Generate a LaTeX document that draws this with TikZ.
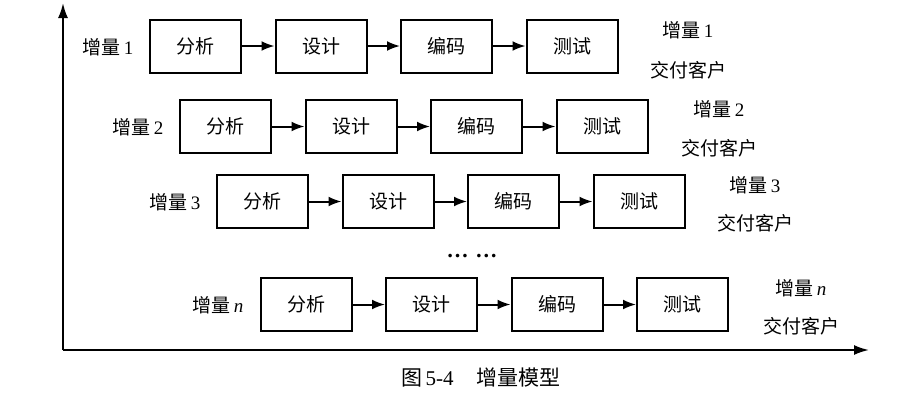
\documentclass[tikz,border=0pt]{standalone}
\usepackage{fontspec}
\setmainfont{Liberation Serif}
\newfontfamily\cjk{Noto Sans CJK SC}
\usetikzlibrary{arrows.meta}
\newcommand\zlab[1]{{\cjk 增量}\,#1}
\begin{document}
\begin{tikzpicture}[x=1pt,y=-1pt,
  stagebox/.style={draw,line width=2pt,minimum width=91pt,minimum height=53pt,inner sep=0pt,font=\fontsize{19}{19}\cjk},
  lbl/.style={inner sep=0pt,font=\fontsize{19}{19}\selectfont},
  flow/.style={line width=2pt,-{Latex[length=13pt,width=10pt]}},
  axisline/.style={line width=2pt,-{Latex[length=15pt,width=10pt]}}]
\useasboundingbox (0,0) rectangle (909,400);
% axes
\coordinate (origin) at (63,350);
\coordinate (ytip) at (63,3);
\coordinate (xtip) at (869,350);
\draw[axisline] (origin) -- (ytip);
\draw[axisline] (origin) -- (xtip);
% rows
\foreach \r/\cx/\cy/\lx/\n/\rx/\ryA/\ryB in
  {1/195.5/46/108/1/688/30/70,
   2/225.5/126.5/138/2/719/109/148,
   3/262.5/201.5/175/3/755/185/223,
   4/306/304.5/218/{\textit{n}}/801/288/326}{
  \node[stagebox] (a\r) at (\cx,\cy) {分析};
  \node[stagebox] (b\r) at (\cx+125.5,\cy) {设计};
  \node[stagebox] (c\r) at (\cx+251,\cy) {编码};
  \node[stagebox] (d\r) at (\cx+376.5,\cy) {测试};
  \draw[flow] (a\r) -- (b\r);
  \draw[flow] (b\r) -- (c\r);
  \draw[flow] (c\r) -- (d\r);
  \node[lbl] (l\r) at (\lx,\cy+1) {\zlab{\n}};
  \node[lbl] (ra\r) at (\rx,\ryA) {\zlab{\n}};
  \node[lbl] (rb\r) at (\rx,\ryB) {\cjk 交付客户};
}
\node[lbl,font=\fontsize{22}{22}\bfseries] (dots) at (472,256) {…\hspace{0.3em}…};
\node[lbl,font=\fontsize{21}{21}\selectfont] (cap) at (481,377) {{\cjk 图}\,5-4\hspace{1.1em}{\cjk 增量模型}};
\end{tikzpicture}
\end{document}
